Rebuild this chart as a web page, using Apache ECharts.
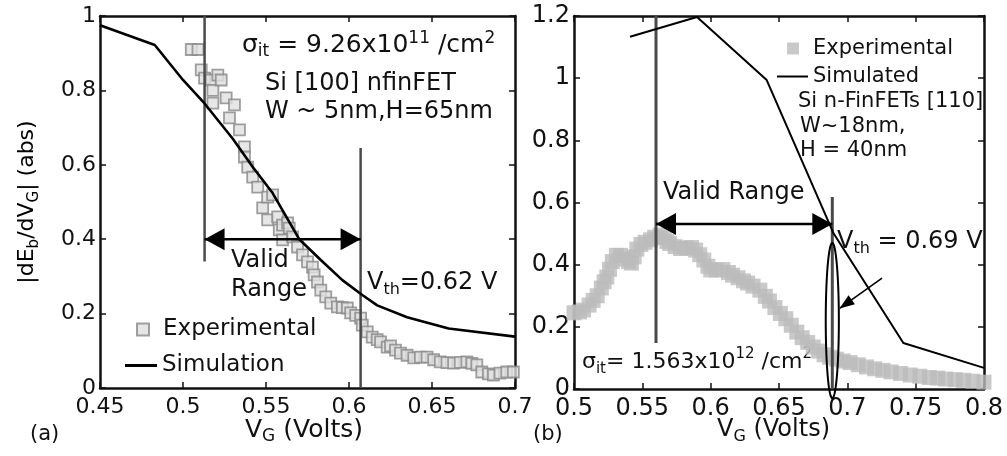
<!DOCTYPE html>
<html><head><meta charset="utf-8">
<script src="https://cdn.jsdelivr.net/npm/echarts@6/dist/echarts.min.js"></script>
<style>html,body{margin:0;padding:0;background:#fff}#c{width:1007px;height:456px}</style>
</head><body><div id="c"></div>
<script>
// ---------- DATA ----------
const leftXTicks = [0.45, 0.5, 0.55, 0.6, 0.65, 0.7];
const leftYTicks = [0, 0.2, 0.4, 0.6, 0.8, 1];
const rightXTicks = [0.5, 0.55, 0.6, 0.65, 0.7, 0.75, 0.8];
const rightYTicks = [0, 0.2, 0.4, 0.6, 0.8, 1, 1.2];

const leftSimulation = [[0.45,0.975],[0.483,0.922],[0.50,0.828],[0.512,0.77],[0.53,0.67],[0.542,0.594],[0.554,0.524],[0.57,0.40],[0.583,0.344],[0.596,0.29],[0.608,0.25],[0.617,0.222],[0.635,0.19],[0.66,0.16],[0.70,0.138]];
const leftExperimental = [[0.505,0.91],[0.509,0.91],[0.511,0.855],[0.513,0.833],[0.517,0.828],[0.518,0.80],[0.518,0.766],[0.521,0.841],[0.523,0.828],[0.526,0.78],[0.528,0.726],[0.531,0.761],[0.534,0.694],[0.537,0.648],[0.537,0.621],[0.539,0.594],[0.542,0.567],[0.545,0.54],[0.548,0.484],[0.551,0.513],[0.551,0.452],[0.554,0.519],[0.557,0.46],[0.558,0.425],[0.560,0.398],[0.560,0.438],[0.563,0.444],[0.564,0.43],[0.566,0.406],[0.569,0.379],[0.572,0.358],[0.575,0.339],[0.578,0.325],[0.579,0.304],[0.581,0.285],[0.583,0.263],[0.586,0.245],[0.589,0.228],[0.593,0.218],[0.596,0.216],[0.599,0.215],[0.601,0.202],[0.604,0.195],[0.607,0.188],[0.608,0.169],[0.611,0.151],[0.614,0.137],[0.617,0.13],[0.619,0.124],[0.623,0.11],[0.625,0.113],[0.628,0.102],[0.631,0.094],[0.635,0.088],[0.639,0.081],[0.643,0.083],[0.647,0.083],[0.651,0.076],[0.655,0.07],[0.659,0.068],[0.663,0.067],[0.667,0.069],[0.671,0.07],[0.674,0.066],[0.677,0.062],[0.680,0.043],[0.684,0.038],[0.687,0.035],[0.691,0.04],[0.695,0.043],[0.699,0.043]];
const leftValidLow = [[0.513,1.0],[0.513,0.34]];
const leftValidHigh = [[0.607,0.645],[0.607,0]];
const leftArrow = [[0.513,0.40],[0.607,0.40]];

const rightSimulated = [[0.541,1.133],[0.59,1.197],[0.641,0.994],[0.69,0.50],[0.741,0.148],[0.8,0.068]];
const rightExperimental = [[0.500,0.245],[0.504,0.248],[0.507,0.254],[0.511,0.27],[0.514,0.285],[0.517,0.300],[0.520,0.325],[0.522,0.345],[0.524,0.36],[0.526,0.385],[0.528,0.41],[0.531,0.43],[0.534,0.43],[0.537,0.418],[0.540,0.41],[0.542,0.405],[0.544,0.425],[0.546,0.45],[0.549,0.465],[0.552,0.472],[0.556,0.48],[0.559,0.488],[0.563,0.495],[0.566,0.487],[0.568,0.475],[0.570,0.468],[0.574,0.458],[0.578,0.452],[0.582,0.454],[0.586,0.455],[0.589,0.447],[0.592,0.432],[0.595,0.415],[0.598,0.395],[0.600,0.383],[0.604,0.383],[0.609,0.384],[0.613,0.375],[0.616,0.366],[0.620,0.358],[0.624,0.348],[0.627,0.341],[0.631,0.331],[0.636,0.318],[0.640,0.298],[0.643,0.283],[0.647,0.262],[0.651,0.243],[0.655,0.226],[0.659,0.205],[0.663,0.183],[0.667,0.165],[0.671,0.15],[0.675,0.135],[0.679,0.122],[0.683,0.11],[0.687,0.102],[0.692,0.096],[0.697,0.09],[0.702,0.085],[0.708,0.078],[0.714,0.071],[0.720,0.065],[0.726,0.06],[0.732,0.055],[0.739,0.05],[0.746,0.045],[0.753,0.041],[0.760,0.037],[0.766,0.035],[0.772,0.032],[0.779,0.03],[0.785,0.028],[0.792,0.025],[0.800,0.022]];
const rightValidLow = [[0.56,1.2],[0.56,0.148]];
const rightValidHigh = [[0.689,0.618],[0.689,0]];
const rightArrow = [[0.56,0.531],[0.689,0.531]];
// ellipse: [x centre, y centre, half-width in x, half-height in y]
const rightEllipse = [[0.689, 0.22, 0.0048, 0.25]];
const rightPointer = [[0.7254,0.357],[0.6946,0.26]];

// ---------- STYLE ----------
const FONT = 'DejaVu Sans';
const fmt = v => String(+(+v).toFixed(2));

function richStyles(size) {
  const sub = Math.round(size * 0.68);
  return {
    n: {fontSize: size, fontFamily: FONT, lineHeight: 30, verticalAlign: 'middle', color: '#111'},
    s: {fontSize: sub, fontFamily: FONT, lineHeight: sub, verticalAlign: 'bottom', color: '#111'},
    p: {fontSize: sub, fontFamily: FONT, lineHeight: sub, verticalAlign: 'top', color: '#111'}
  };
}
function txt(x, y, text, size, extra) {
  return Object.assign({
    type: 'text', x: x, y: y, silent: true,
    style: {text: text, rich: richStyles(size), align: 'left', verticalAlign: 'middle', fill: '#111', font: size + 'px "' + FONT + '"'}
  }, extra || {});
}

function xAxisPair(gridIndex, min, max, labelSize) {
  const base = {type: 'value', gridIndex: gridIndex, min: min, max: max, interval: 0.05,
    splitLine: {show: false}, axisLine: {lineStyle: {color: '#111', width: 2.5}, onZero: false},
    axisTick: {inside: true, length: 6, lineStyle: {color: '#111', width: 1.5}}};
  return [
    Object.assign({}, base, {position: 'bottom', axisLabel: {formatter: fmt, fontFamily: FONT, fontSize: labelSize, color: '#111', margin: 8, showMinLabel: true, showMaxLabel: true}}),
    Object.assign({}, base, {position: 'top', axisLabel: {show: false}})
  ];
}
function yAxisPair(gridIndex, max, labelSize) {
  const base = {type: 'value', gridIndex: gridIndex, min: 0, max: max, interval: 0.2,
    splitLine: {show: false}, axisLine: {lineStyle: {color: '#111', width: 2.5}, onZero: false},
    axisTick: {inside: true, length: 6, lineStyle: {color: '#111', width: 1.5}}};
  return [
    Object.assign({}, base, {position: 'left', axisLabel: {formatter: fmt, fontFamily: FONT, fontSize: labelSize, color: '#111', margin: 4, showMinLabel: true, showMaxLabel: true}}),
    Object.assign({}, base, {position: 'right', axisLabel: {show: false}})
  ];
}

const vline = (data, xi, yi, w) => ({type: 'line', xAxisIndex: xi, yAxisIndex: yi, data: data, symbol: 'none', silent: true,
  lineStyle: {color: '#4a4a4a', width: w}, z: 3});

const arrowMark = (pair) => ({silent: true, symbol: ['triangle', 'triangle'], symbolSize: [22, 20],
  symbolOffset: [[0, 10], [0, 10]], label: {show: false},
  lineStyle: {color: '#000', width: 0, type: 'solid'}, itemStyle: {color: '#000'},
  data: [[{coord: pair[0]}, {coord: pair[1]}]]});

const legendBase = {orient: 'vertical', padding: 0, selectedMode: false};

function renderEllipse(params, api) {
  const c = api.coord([api.value(0), api.value(1)]);
  const s = api.size([api.value(2), api.value(3)]);
  const pts = [];
  for (let i = 0; i < 72; i++) {
    const a = i / 72 * Math.PI * 2;
    pts.push([c[0] + s[0] * Math.cos(a), c[1] + s[1] * Math.sin(a)]);
  }
  return {type: 'polygon', shape: {points: pts}, style: {fill: 'none', stroke: '#000', lineWidth: 2}};
}

const option = {
  backgroundColor: '#fff',
  animation: false,
  grid: [
    {left: 100, top: 16, width: 415, height: 372},
    {left: 574, top: 16, width: 410, height: 373}
  ],
  xAxis: [].concat(xAxisPair(0, 0.45, 0.7, 22), xAxisPair(1, 0.5, 0.8, 24)),
  yAxis: [].concat(yAxisPair(0, 1, 22), yAxisPair(1, 1.2, 24)),
  legend: [
    Object.assign({}, legendBase, {left: 136, top: 318, itemWidth: 12, itemHeight: 12,
      data: [{name: 'Experimental', icon: 'rect'}],
      textStyle: {fontFamily: FONT, fontSize: 23, color: '#111', padding: [0, 0, 0, 9]}}),
    Object.assign({}, legendBase, {left: 125, top: 354, itemWidth: 32, itemHeight: 3,
      data: [{name: 'Simulation', icon: 'rect'}],
      textStyle: {fontFamily: FONT, fontSize: 23, color: '#111'}}),
    Object.assign({}, legendBase, {left: 787, top: 38, itemWidth: 12, itemHeight: 12,
      data: [{name: 'Experimental (b)', icon: 'rect'}], formatter: () => 'Experimental',
      textStyle: {fontFamily: FONT, fontSize: 21, color: '#111', padding: [0, 0, 0, 9]}}),
    Object.assign({}, legendBase, {left: 777, top: 66, itemWidth: 31, itemHeight: 2,
      data: [{name: 'Simulated', icon: 'rect'}],
      textStyle: {fontFamily: FONT, fontSize: 21, color: '#111'}})
  ],
  series: [
    // left panel
    {name: 'Experimental', type: 'scatter', xAxisIndex: 0, yAxisIndex: 0, data: leftExperimental,
      symbol: 'rect', symbolSize: 11, itemStyle: {color: '#e0e0e0', borderColor: '#888', borderWidth: 1.8}, z: 2},
    {name: 'Simulation', type: 'line', xAxisIndex: 0, yAxisIndex: 0, data: leftSimulation, symbol: 'none',
      color: '#000', itemStyle: {color: '#000'}, lineStyle: {color: '#000', width: 2.6}, z: 4},
    vline(leftValidLow, 0, 0, 2.5),
    vline(leftValidHigh, 0, 0, 2.5),
    {type: 'line', xAxisIndex: 0, yAxisIndex: 0, data: leftArrow, symbol: 'none', silent: true,
      lineStyle: {color: '#000', width: 2.5}, z: 5, markLine: arrowMark(leftArrow)},
    // right panel
    {name: 'Experimental (b)', type: 'scatter', xAxisIndex: 2, yAxisIndex: 2, data: rightExperimental,
      symbol: 'rect', symbolSize: 15, itemStyle: {color: '#bcbcbc'}, z: 2},
    {name: 'Simulated', type: 'line', xAxisIndex: 2, yAxisIndex: 2, data: rightSimulated, symbol: 'none',
      color: '#000', itemStyle: {color: '#000'}, lineStyle: {color: '#000', width: 2}, z: 4},
    vline(rightValidLow, 2, 2, 3),
    vline(rightValidHigh, 2, 2, 3),
    {type: 'line', xAxisIndex: 2, yAxisIndex: 2, data: rightArrow, symbol: 'none', silent: true,
      lineStyle: {color: '#000', width: 2.5}, z: 5, markLine: arrowMark(rightArrow)},
    {type: 'custom', xAxisIndex: 2, yAxisIndex: 2, data: rightEllipse, renderItem: renderEllipse,
      clip: false, silent: true, z: 6},
    {type: 'line', xAxisIndex: 2, yAxisIndex: 2, data: rightPointer, symbol: 'none', silent: true,
      lineStyle: {color: '#000', width: 1.6}, z: 5,
      markLine: {silent: true, symbol: ['none', 'triangle'], symbolSize: [11, 15], symbolOffset: [[0, 0], [0, 7]], label: {show: false},
        lineStyle: {color: '#000', width: 0, type: 'solid'}, itemStyle: {color: '#000'},
        data: [[{coord: rightPointer[0]}, {coord: rightPointer[1]}]]}}
  ],
  graphic: [
    // left panel texts
    txt(27, 202, '', 22, {rotation: Math.PI / 2, style: {text: '{n||dE}{s|b}{n|/dV}{s|G}{n|| (abs)}', rich: richStyles(22), align: 'center', verticalAlign: 'middle'}}),
    txt(242, 45, '{n|σ}{s|it}{n| = 9.26x10}{p|11}{n| /cm}{p|2}', 25),
    txt(265, 84, '{n|Si [100] nfinFET}', 24),
    txt(265, 112, '{n|W ~ 5nm,H=65nm}', 24),
    txt(231, 261, '{n|Valid}', 24),
    txt(231, 290, '{n|Range}', 24),
    txt(367, 283, '{n|V}{s|th}{n|=0.62 V}', 24),
    txt(245, 430, '{n|V}{s|G}{n| (Volts)}', 25),
    txt(30, 435, '{n|(a)}', 21),
    // right panel texts
    txt(663, 193, '{n|Valid Range}', 24),
    txt(837, 242, '{n|V}{s|th}{n| = 0.69 V}', 24),
    txt(798, 102, '{n|Si n-FinFETs [110]}', 21),
    txt(800, 127, '{n|W~18nm,}', 21),
    txt(800, 151, '{n|H = 40nm}', 21),
    txt(582, 362, '{n|σ}{s|it}{n|= 1.563x10}{p|12}{n| /cm}{p|2}', 22),
    txt(717, 430, '{n|V}{s|G}{n| (Volts)}', 24),
    txt(533, 435, '{n|(b)}', 21)
  ]
};

const chart = echarts.init(document.getElementById('c'), null, {renderer: 'canvas'});
chart.setOption(option);
</script></body></html>
